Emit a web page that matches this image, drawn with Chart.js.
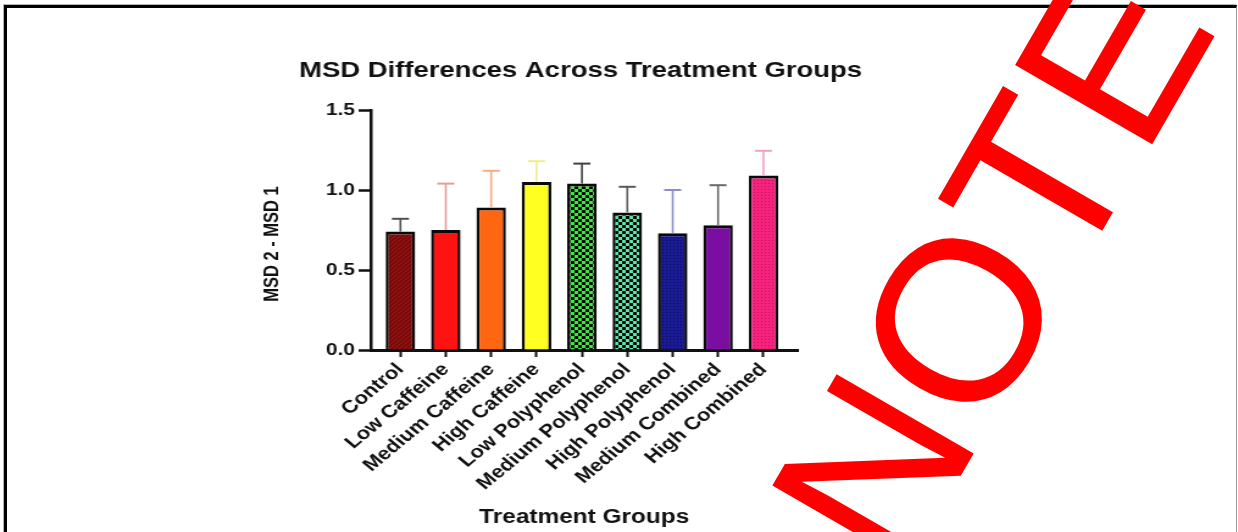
<!DOCTYPE html>
<html>
<head>
<meta charset="utf-8">
<title>MSD Differences Across Treatment Groups</title>
<script src="https://cdn.jsdelivr.net/npm/chart.js@4.4.1/dist/chart.umd.min.js"></script>
<style>
  html, body { margin: 0; padding: 0; background: #fff; overflow: hidden; }
  #page { position: relative; width: 1238px; height: 532px; overflow: hidden; background: #fff; }
  #chart { position: absolute; left: 0; top: 0; }
  #frame {
    position: absolute; left: 4px; top: 5px; width: 1229px; height: 600px;
    border-top: 3px solid #000; border-left: 3px solid #000; border-right: 1px solid #9a9a9a;
    box-shadow: -1px -1px 0 #b4b4b4; pointer-events: none;
  }
  #stamp { position: absolute; left: 0; top: 0; pointer-events: none; }
</style>
</head>
<body>
<div id="page">
  <!-- chart is drawn on a narrower bitmap and widened to the page (wide-figure look) -->
  <canvas id="chart" width="1015" height="532" style="width:1238px;height:532px"></canvas>
  <div id="frame"></div>
  <canvas id="stamp" width="1238" height="532"></canvas>
</div>
<script>
// ---- data ----
const categories = ['Control', 'Low Caffeine', 'Medium Caffeine', 'High Caffeine', 'Low Polyphenol',
                    'Medium Polyphenol', 'High Polyphenol', 'Medium Combined', 'High Combined'];
const meanDiff = [0.74, 0.75, 0.89, 1.05, 1.04, 0.86, 0.73, 0.78, 1.09];
const sdDiff   = [0.08, 0.29, 0.23, 0.13, 0.125, 0.16, 0.27, 0.25, 0.155];
const yTicks = [0, 0.5, 1.0, 1.5];

const chartTitle = 'MSD Differences Across Treatment Groups';
const xAxisTitle = 'Treatment Groups';
const yAxisTitle = 'MSD 2 - MSD 1';
const stampText = 'NOTE';

// ---- styles ----
const FONT = '"Liberation Sans", Arial, Helvetica, sans-serif';
const INK = '#111';
const errorColors = ['#505050', '#e99a9a', '#f2ad86', '#eeee88', '#404040',
                     '#5a5a5a', '#8c8cc8', '#6a6a6a', '#f0a2c4'];

const chartCanvas = document.getElementById('chart');
const ctx = chartCanvas.getContext('2d');

function makePattern(w, h, paint) {
  const tile = document.createElement('canvas');
  tile.width = w; tile.height = h;
  paint(tile.getContext('2d'), w, h);
  return ctx.createPattern(tile, 'repeat');
}
const hatch = (base, line) => makePattern(4, 4, (g, w, h) => {
  g.fillStyle = base; g.fillRect(0, 0, w, h);
  g.strokeStyle = line; g.lineWidth = 1;
  g.beginPath(); g.moveTo(0, h); g.lineTo(w, 0); g.stroke();
});
const checker = (light) => makePattern(6, 6, (g) => {
  g.fillStyle = '#050505'; g.fillRect(0, 0, 6, 6);
  g.fillStyle = light; g.fillRect(0, 0, 3, 3); g.fillRect(3, 3, 3, 3);
});
const dots = (base, dot) => makePattern(3, 3, (g) => {
  g.fillStyle = base; g.fillRect(0, 0, 3, 3);
  g.fillStyle = dot; g.fillRect(0, 0, 1, 1);
});

const barFills = [
  hatch('#7a0909', '#9a1a1a'),
  '#ff1212',
  '#ff6612',
  '#ffff22',
  checker('#3aea3a'),
  checker('#5ae8aa'),
  dots('#1a1a92', '#0a0a5c'),
  '#7a0ea0',
  dots('#f7227e', '#c8125e')
];

// SD whiskers above each bar, placed with the y scale
const errorBars = {
  id: 'errorBars',
  afterDatasetsDraw(chart) {
    const meta = chart.getDatasetMeta(0);
    const y = chart.scales.y;
    const c = chart.ctx;
    c.save();
    meta.data.forEach((bar, i) => {
      const top = y.getPixelForValue(meanDiff[i] + sdDiff[i]);
      c.strokeStyle = errorColors[i];
      c.lineWidth = 1.6;
      c.beginPath(); c.moveTo(bar.x, bar.y); c.lineTo(bar.x, top); c.stroke();
      c.lineWidth = 2;
      c.beginPath(); c.moveTo(bar.x - 7, top); c.lineTo(bar.x + 7, top); c.stroke();
    });
    c.restore();
  }
};

// chart heading and the vertical axis caption
const captions = {
  id: 'captions',
  afterDraw(chart) {
    const c = chart.ctx;
    c.save();
    c.fillStyle = INK;
    c.textAlign = 'center';
    c.textBaseline = 'middle';
    c.font = 'bold 22.5px ' + FONT;
    c.fillText(chartTitle, 476, 71);
    c.translate(223, 244);
    c.rotate(-Math.PI / 2);
    c.font = 'bold 16.5px ' + FONT;
    c.fillText(yAxisTitle, 0, 0);
    c.restore();
  }
};

new Chart(ctx, {
  type: 'bar',
  data: {
    datasets: [{
      data: meanDiff.map((v, i) => ({ x: i, y: v })),
      backgroundColor: barFills,
      borderColor: '#0a0a0a',
      borderWidth: { top: 3, left: 2.5, right: 2.5, bottom: 0 },
      borderSkipped: 'bottom',
      categoryPercentage: 1,
      barPercentage: 0.65
    }]
  },
  options: {
    responsive: false,
    animation: false,
    devicePixelRatio: 1,
    events: [],
    layout: { padding: { left: 0, right: 361, top: 110, bottom: 0 } },
    plugins: {
      legend: { display: false },
      tooltip: { enabled: false },
      title: { display: false }
    },
    scales: {
      x: {
        type: 'linear',
        min: -0.653,
        max: 8.755,
        offset: false,
        afterBuildTicks: s => { s.ticks = categories.map((_, i) => ({ value: i })); },
        afterFit: s => { s.height = 182; },
        grid: { display: true, offset: false, drawOnChartArea: false, drawTicks: true,
                tickLength: 7, tickWidth: 2, tickColor: INK },
        border: { display: true, color: INK, width: 3 },
        ticks: {
          autoSkip: false, minRotation: 45, maxRotation: 45, padding: 2, color: INK,
          font: { family: FONT, size: 18, weight: 'bold' },
          callback: v => categories[v]
        },
        title: {
          display: true, text: xAxisTitle, color: INK,
          font: { family: FONT, size: 20, weight: 'bold', lineHeight: 1.2 },
          padding: { top: 0, bottom: 3 }
        }
      },
      y: {
        min: 0,
        max: 1.5,
        afterBuildTicks: s => { s.ticks = yTicks.map(v => ({ value: v })); },
        afterFit: s => { s.width = 304; },
        grid: { display: true, drawOnChartArea: false, drawTicks: true,
                tickLength: 10, tickWidth: 2.5, tickColor: INK },
        border: { display: true, color: INK, width: 2.5 },
        ticks: {
          padding: 3, color: INK,
          font: { family: FONT, size: 17, weight: 'bold' },
          callback: v => Number(v).toFixed(1)
        }
      }
    }
  },
  plugins: [errorBars, captions]
});

// red diagonal stamp over the page
const st = document.getElementById('stamp').getContext('2d');
st.save();
st.translate(900, 581);
st.rotate(-Math.PI / 3);
st.font = '230px ' + FONT;
st.fillStyle = '#ff0000';
st.textBaseline = 'alphabetic';
st.fillText(stampText, 0, 0);
st.restore();
</script>
</body>
</html>
